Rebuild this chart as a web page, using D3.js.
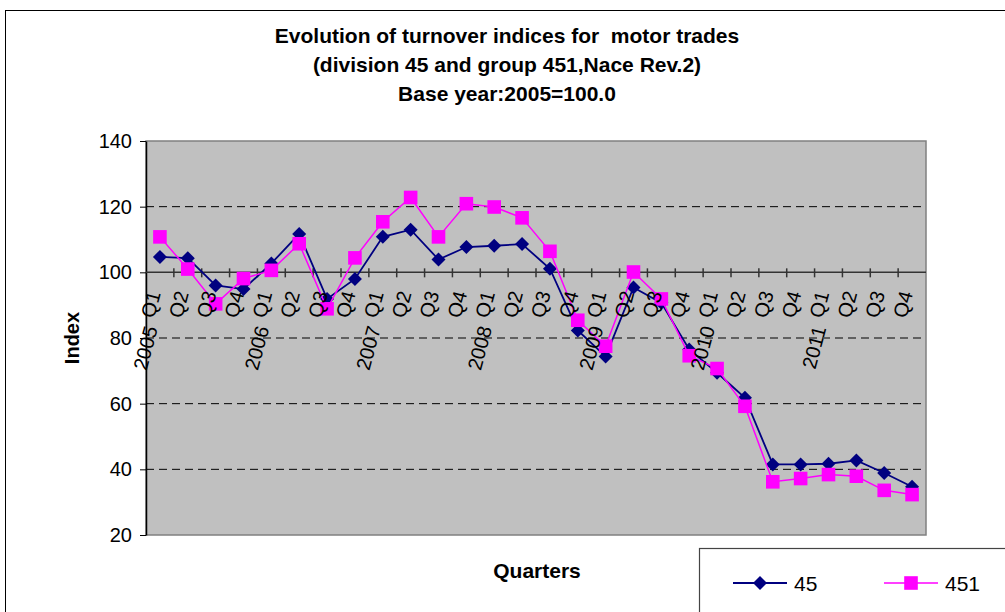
<!DOCTYPE html>
<html>
<head>
<meta charset="utf-8">
<script src="https://cdn.jsdelivr.net/npm/d3@7"></script>
<style>
  body { margin: 0; background: #fff; }
  svg { display: block; font-family: Arial, "Liberation Sans", sans-serif; }
</style>
</head>
<body>
<svg id="chart" width="1005" height="612"></svg>
<script>
// data
const years = ["2005", "2006", "2007", "2008", "2009", "2010", "2011"];
const quarters = ["Q1", "Q2", "Q3", "Q4"];
const div45 = [104.7, 104.3, 96.0, 94.9, 102.7, 111.7, 91.9, 98.0,
  110.8, 113.0, 103.9, 107.7, 108.1, 108.6, 101.1, 82.3,
  74.4, 95.4, 90.7, 76.5, 69.4, 61.8, 41.5, 41.5,
  41.7, 42.7, 38.9, 34.7];
const grp451 = [110.8, 101.0, 90.4, 98.1, 100.6, 108.7, 88.9, 104.4,
  115.4, 122.8, 110.8, 120.9, 119.9, 116.6, 106.4, 85.4,
  77.5, 100.1, 91.9, 74.6, 70.7, 59.2, 36.2, 37.2,
  38.4, 37.9, 33.6, 32.3];
const yTicks = [20, 40, 60, 80, 100, 120, 140];
const titleLines = [
  "Evolution of turnover indices for  motor trades",
  "(division 45 and group 451,Nace Rev.2)",
  "Base year:2005=100.0",
];

const cats = [];
years.forEach((y) => quarters.forEach((q) => cats.push(y + " " + q)));

const svg = d3.select("#chart");
const plot = { left: 146, right: 926, top: 141, bottom: 535 };

// outer chart border
svg.append("rect")
  .attr("x", 5.5).attr("y", 10.5)
  .attr("width", 1020).attr("height", 620)
  .attr("fill", "#fff").attr("stroke", "#000");

// title
svg.append("g")
  .selectAll("text")
  .data(titleLines)
  .enter()
  .append("text")
  .attr("x", 507)
  .attr("y", (d, i) => 43 + i * 29)
  .attr("text-anchor", "middle")
  .style("font-size", "21px")
  .style("font-weight", "bold")
  .style("white-space", "pre")
  .text((d) => d);

const x = d3.scaleBand().domain(cats).range([plot.left, plot.right]).padding(0);
const y = d3.scaleLinear().domain([20, 140]).range([plot.bottom, plot.top]);
const xc = (i) => x(cats[i]) + x.bandwidth() / 2;

// plot background
svg.append("rect")
  .attr("x", plot.left).attr("y", plot.top)
  .attr("width", plot.right - plot.left).attr("height", plot.bottom - plot.top)
  .attr("fill", "#c0c0c0").attr("stroke", "#808080").attr("stroke-width", 1.5);

// dashed gridlines
svg.append("g")
  .selectAll("line")
  .data(yTicks.filter((t) => t !== 20 && t !== 140 && t !== 100))
  .enter()
  .append("line")
  .attr("x1", plot.left).attr("x2", plot.right)
  .attr("y1", (d) => y(d)).attr("y2", (d) => y(d))
  .attr("stroke", "#000")
  .attr("stroke-dasharray", "8,5");

// y axis
const yAxisG = svg.append("g")
  .attr("transform", `translate(${plot.left},0)`)
  .call(d3.axisLeft(y).tickValues(yTicks).tickSize(6).tickPadding(8).tickSizeOuter(0));
yAxisG.select(".domain").attr("stroke", "#000").attr("stroke-width", 1.5);
yAxisG.selectAll("text").style("font-size", "20px").attr("fill", "#000").attr("font-family", null);

svg.append("text")
  .attr("transform", `translate(79,${(plot.top + plot.bottom) / 2}) rotate(-90)`)
  .attr("text-anchor", "middle")
  .style("font-size", "20px")
  .style("font-weight", "bold")
  .text("Index");

// category axis crosses at 100
const y100 = y(100);
svg.append("line")
  .attr("x1", plot.left).attr("x2", plot.right)
  .attr("y1", y100).attr("y2", y100)
  .attr("stroke", "#333").attr("stroke-width", 1.5);
svg.append("g")
  .selectAll("line")
  .data(cats.slice(1))
  .enter()
  .append("line")
  .attr("x1", (d) => x(d)).attr("x2", (d) => x(d))
  .attr("y1", y100 - 4).attr("y2", y100 + 5)
  .attr("stroke", "#333").attr("stroke-width", 1.5);

svg.append("text")
  .attr("x", 537).attr("y", 578)
  .attr("text-anchor", "middle")
  .style("font-size", "21px")
  .style("font-weight", "bold")
  .text("Quarters");

// series
const diamond = "M0,-7L7,0L0,7L-7,0Z";
const series = [
  { name: "45", values: div45, color: "#000080", mark: diamond, width: 1.8 },
  { name: "451", values: grp451, color: "#ff00ff", mark: d3.symbol().type(d3.symbolSquare).size(185)(), width: 1.5 },
];
const line = d3.line().x((d, i) => xc(i)).y((d) => y(d));

series.forEach((s) => {
  const g = svg.append("g");
  g.append("path")
    .attr("d", line(s.values))
    .attr("fill", "none")
    .attr("stroke", s.color)
    .attr("stroke-width", s.width);
  g.selectAll("path.mark")
    .data(s.values)
    .enter()
    .append("path")
    .attr("class", "mark")
    .attr("transform", (d, i) => `translate(${xc(i)},${y(d)})`)
    .attr("d", s.mark)
    .attr("fill", s.color);
});

// rotated category labels (drawn on top like in excel)
const labG = svg.append("g").style("font-size", "20px");
labG.selectAll("text.q")
  .data(cats)
  .enter()
  .append("text")
  .attr("class", "q")
  .attr("text-anchor", "end")
  .attr("transform", (d, i) => `translate(${xc(i) + 1},${y100 + 21}) rotate(-75)`)
  .text((d) => d.split(" ")[1]);
labG.selectAll("text.yr")
  .data(years)
  .enter()
  .append("text")
  .attr("class", "yr")
  .attr("text-anchor", "end")
  .attr("transform", (d, i) => `translate(${xc(i * 4) - 2},${y100 + 56}) rotate(-75)`)
  .text((d) => d);

// legend
const leg = svg.append("g");
leg.append("rect")
  .attr("x", 699.5).attr("y", 548.5)
  .attr("width", 400).attr("height", 100)
  .attr("fill", "#fff").attr("stroke", "#444").attr("stroke-width", 1.2);
const legX = [733, 884];
series.forEach((s, i) => {
  const gx = legX[i];
  leg.append("line")
    .attr("x1", gx).attr("x2", gx + 54)
    .attr("y1", 583).attr("y2", 583)
    .attr("stroke", s.color).attr("stroke-width", s.width);
  leg.append("path")
    .attr("transform", `translate(${gx + 27},583)`)
    .attr("d", s.mark)
    .attr("fill", s.color);
  leg.append("text")
    .attr("x", gx + 61).attr("y", 590.5)
    .style("font-size", "21px")
    .text(s.name);
});
</script>
</body>
</html>
